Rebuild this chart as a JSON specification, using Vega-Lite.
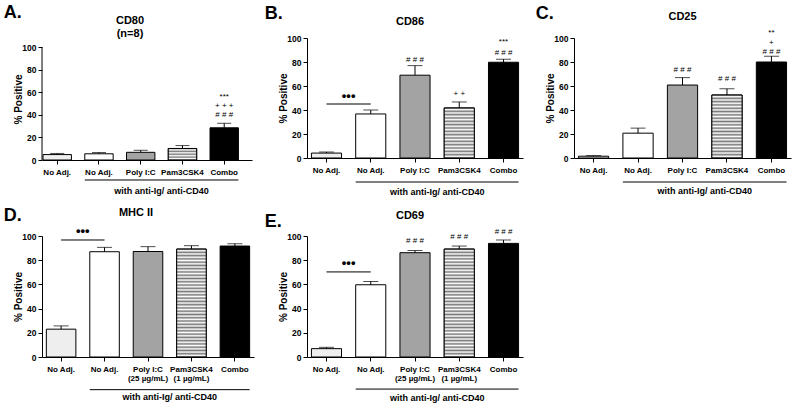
{
"$schema":"https://vega.github.io/schema/vega-lite/v6.json",
"padding":{"left":3,"top":4,"right":5,"bottom":0},
"background":"#ffffff",
"config":{"font":"Liberation Sans","view":{"stroke":null},
"axis":{"labelFont":"Liberation Sans","labelFontWeight":"bold","labelColor":"#000","tickColor":"#000","domainColor":"#000","titleColor":"#000","grid":false,"labelFontSize":8.5,"tickSize":4,"titleFont":"Liberation Sans","titleFontWeight":"bold","labelOverlap":false},
"axisX":{"labelAngle":0,"labelFontSize":8,"labelPadding":4,"labelLineHeight":9.5},
"axisY":{"titleFontSize":10,"titlePadding":-2,"labelPadding":2,"tickCount":6},
"title":{"fontSize":11,"font":"Liberation Sans","fontWeight":"bold","color":"#000"},
"text":{"font":"Liberation Sans","color":"#000"}},
"spacing":10,
"vconcat":[
{"spacing":12,"hconcat":[
{"title":{"text":"A.","anchor":"start","fontSize":18,"dx":-10,"offset":-7},
"vconcat":[{"width":210,"height":122,
"title":{"text":["CD80","(n=8)"],"offset":-1,"frame":"group","lineHeight":13,"dx":-17},
"data":{"values":[{"k":1,"v":4.8,"e":5.8},{"k":2,"v":5.5,"e":6.6},{"k":3,"v":6.8,"e":8.6},{"k":4,"v":10.2,"e":12.8},{"k":5,"v":28.5,"e":32.5}]},
"layer":[
{"mark":{"type":"bar","stroke":"#000","strokeWidth":1},"encoding":{"x":{"field":"k","type":"ordinal","title":null,"scale":{"domain":[1,2,3,4,5],"paddingInner":0.32,"paddingOuter":0.175,"align":0.07},"axis":{"labelExpr":"['No Adj.','No Adj.','Poly I:C','Pam3CSK4','Combo'][datum.value-1]"}},"y":{"field":"v","type":"quantitative","title":"% Positive","scale":{"domain":[0,108],"nice":false},"axis":{"values":[0,20,40,60,80,100],"tickCount":6,"domain":false,"labelOverlap":false}},"fill":{"field":"k","type":"nominal","legend":null,"scale":{"domain":[1,2,3,4,5],"range":["#eeeeee","#ffffff","#a3a3a3","#cfcfcf","#000000"]}}}},
{"transform":[{"filter":"datum.k == 4"}],"mark":{"type":"bar","stroke":"#000","strokeWidth":1,"fill":{"gradient":"linear","x1":0,"y1":0,"x2":0,"y2":1,"stops":[{"offset":0,"color":"#777"},{"offset":0.125,"color":"#fff"},{"offset":0.25,"color":"#777"},{"offset":0.375,"color":"#fff"},{"offset":0.5,"color":"#777"},{"offset":0.625,"color":"#fff"},{"offset":0.75,"color":"#777"},{"offset":0.875,"color":"#fff"},{"offset":1,"color":"#777"}]}},"encoding":{"x":{"field":"k","type":"ordinal","title":null},"y":{"field":"v","type":"quantitative","title":"% Positive"}}},
{"data":{"values":[{}]},"mark":{"type":"rule","color":"#000"},"encoding":{"x":{"datum":1,"type":"ordinal","bandPosition":-0.035,"title":null},"y":{"datum":0,"type":"quantitative","title":"% Positive"},"y2":{"datum":100}}},
{"mark":{"type":"rule","color":"#000"},"encoding":{"x":{"field":"k","type":"ordinal","title":null},"y":{"field":"v","type":"quantitative","title":"% Positive"},"y2":{"field":"e"}}},
{"mark":{"type":"tick","color":"#000","thickness":1,"size":14},"encoding":{"x":{"field":"k","type":"ordinal","title":null},"y":{"field":"e","type":"quantitative","title":"% Positive"}}},
{"data":{"values":[{"k":5,"s":"***","p":55.6},{"k":5,"s":"+ + +","p":47.4},{"k":5,"s":"# # #","p":40}]},"mark":{"type":"text","fontSize":8,"baseline":"middle"},"encoding":{"x":{"field":"k","type":"ordinal","title":null},"y":{"field":"p","type":"quantitative","title":"% Positive"},"text":{"field":"s"}}},
{"data":{"values":[{}]},"mark":{"type":"rule","color":"#000"},"encoding":{"x":{"datum":2,"type":"ordinal","bandPosition":0,"title":null},"x2":{"datum":5,"bandPosition":1},"y":{"datum":-17.7,"type":"quantitative","title":"% Positive"}}},
{"data":{"values":[{}]},"mark":{"type":"text","fontSize":9,"fontWeight":"bold","baseline":"middle"},"encoding":{"x":{"datum":4,"type":"ordinal","bandPosition":-0.235,"title":null},"y":{"datum":-27.4,"type":"quantitative","title":"% Positive"},"text":{"value":"with anti-Ig/ anti-CD40"}}}
]}]},
{"title":{"text":"B.","anchor":"start","fontSize":18,"dx":-14,"offset":-7},
"vconcat":[{"width":216,"height":120,
"title":{"text":"CD86","offset":7,"frame":"group","dx":-5},
"data":{"values":[{"k":1,"v":4.1,"e":5},{"k":2,"v":36.7,"e":40},{"k":3,"v":69,"e":77},{"k":4,"v":41.7,"e":46.7},{"k":5,"v":79.8,"e":82.3}]},
"layer":[
{"mark":{"type":"bar","stroke":"#000","strokeWidth":1},"encoding":{"x":{"field":"k","type":"ordinal","title":null,"scale":{"domain":[1,2,3,4,5],"paddingInner":0.32,"paddingOuter":0.1},"axis":{"labelExpr":"['No Adj.','No Adj.','Poly I:C','Pam3CSK4','Combo'][datum.value-1]"}},"y":{"field":"v","type":"quantitative","title":"% Positive","scale":{"domain":[0,100],"nice":false},"axis":{"values":[0,20,40,60,80,100],"tickCount":6,"labelOverlap":false}},"fill":{"field":"k","type":"nominal","legend":null,"scale":{"domain":[1,2,3,4,5],"range":["#eeeeee","#ffffff","#a3a3a3","#cfcfcf","#000000"]}}}},
{"transform":[{"filter":"datum.k == 4"}],"mark":{"type":"bar","stroke":"#000","strokeWidth":1,"fill":{"gradient":"linear","x1":0,"y1":0,"x2":0,"y2":1,"stops":[{"offset":0,"color":"#777"},{"offset":0.0333,"color":"#fff"},{"offset":0.0667,"color":"#777"},{"offset":0.1,"color":"#fff"},{"offset":0.1333,"color":"#777"},{"offset":0.1667,"color":"#fff"},{"offset":0.2,"color":"#777"},{"offset":0.2333,"color":"#fff"},{"offset":0.2667,"color":"#777"},{"offset":0.3,"color":"#fff"},{"offset":0.3333,"color":"#777"},{"offset":0.3667,"color":"#fff"},{"offset":0.4,"color":"#777"},{"offset":0.4333,"color":"#fff"},{"offset":0.4667,"color":"#777"},{"offset":0.5,"color":"#fff"},{"offset":0.5333,"color":"#777"},{"offset":0.5667,"color":"#fff"},{"offset":0.6,"color":"#777"},{"offset":0.6333,"color":"#fff"},{"offset":0.6667,"color":"#777"},{"offset":0.7,"color":"#fff"},{"offset":0.7333,"color":"#777"},{"offset":0.7667,"color":"#fff"},{"offset":0.8,"color":"#777"},{"offset":0.8333,"color":"#fff"},{"offset":0.8667,"color":"#777"},{"offset":0.9,"color":"#fff"},{"offset":0.9333,"color":"#777"},{"offset":0.9667,"color":"#fff"},{"offset":1,"color":"#777"}]}},"encoding":{"x":{"field":"k","type":"ordinal","title":null},"y":{"field":"v","type":"quantitative","title":"% Positive"}}},
{"mark":{"type":"rule","color":"#000"},"encoding":{"x":{"field":"k","type":"ordinal","title":null},"y":{"field":"v","type":"quantitative","title":"% Positive"},"y2":{"field":"e"}}},
{"mark":{"type":"tick","color":"#000","thickness":1,"size":15},"encoding":{"x":{"field":"k","type":"ordinal","title":null},"y":{"field":"e","type":"quantitative","title":"% Positive"}}},
{"data":{"values":[{"k":3,"s":"# # #","p":81.5},{"k":4,"s":"+ +","p":53},{"k":5,"s":"***","p":96.5},{"k":5,"s":"# # #","p":87.8}]},"mark":{"type":"text","fontSize":8,"baseline":"middle"},"encoding":{"x":{"field":"k","type":"ordinal","title":null},"y":{"field":"p","type":"quantitative","title":"% Positive"},"text":{"field":"s"}}},
{"data":{"values":[{}]},"mark":{"type":"rule","color":"#000"},"encoding":{"x":{"datum":1,"type":"ordinal","bandPosition":0.5,"title":null},"x2":{"datum":2,"bandPosition":0.5},"y":{"datum":45,"type":"quantitative","title":"% Positive"}}},
{"data":{"values":[{}]},"mark":{"type":"text","fontSize":13,"fontWeight":"bold","baseline":"middle"},"encoding":{"x":{"datum":2,"type":"ordinal","bandPosition":-0.235,"title":null},"y":{"datum":52,"type":"quantitative","title":"% Positive"},"text":{"value":"•••"}}},
{"data":{"values":[{}]},"mark":{"type":"rule","color":"#000"},"encoding":{"x":{"datum":2,"type":"ordinal","bandPosition":0,"title":null},"x2":{"datum":5,"bandPosition":1},"y":{"datum":-20,"type":"quantitative","title":"% Positive"}}},
{"data":{"values":[{}]},"mark":{"type":"text","fontSize":9,"fontWeight":"bold","baseline":"middle"},"encoding":{"x":{"datum":4,"type":"ordinal","bandPosition":-0.235,"title":null},"y":{"datum":-28,"type":"quantitative","title":"% Positive"},"text":{"value":"with anti-Ig/ anti-CD40"}}}
]}]},
{"title":{"text":"C.","anchor":"start","fontSize":18,"dx":-10,"offset":-12},
"vconcat":[{"width":217,"height":120,
"title":{"text":"CD25","offset":7,"frame":"group"},
"data":{"values":[{"k":1,"v":1.5,"e":2},{"k":2,"v":20.7,"e":24.9},{"k":3,"v":60.8,"e":67},{"k":4,"v":52.5,"e":57.7},{"k":5,"v":80,"e":84.8}]},
"layer":[
{"mark":{"type":"bar","stroke":"#000","strokeWidth":1},"encoding":{"x":{"field":"k","type":"ordinal","title":null,"scale":{"domain":[1,2,3,4,5],"paddingInner":0.32,"paddingOuter":0.1},"axis":{"labelExpr":"['No Adj.','No Adj.','Poly I:C','Pam3CSK4','Combo'][datum.value-1]"}},"y":{"field":"v","type":"quantitative","title":"% Positive","scale":{"domain":[0,100],"nice":false},"axis":{"values":[0,20,40,60,80,100],"tickCount":6,"labelOverlap":false}},"fill":{"field":"k","type":"nominal","legend":null,"scale":{"domain":[1,2,3,4,5],"range":["#eeeeee","#ffffff","#a3a3a3","#cfcfcf","#000000"]}}}},
{"transform":[{"filter":"datum.k == 4"}],"mark":{"type":"bar","stroke":"#000","strokeWidth":1,"fill":{"gradient":"linear","x1":0,"y1":0,"x2":0,"y2":1,"stops":[{"offset":0,"color":"#777"},{"offset":0.0263,"color":"#fff"},{"offset":0.0526,"color":"#777"},{"offset":0.0789,"color":"#fff"},{"offset":0.1053,"color":"#777"},{"offset":0.1316,"color":"#fff"},{"offset":0.1579,"color":"#777"},{"offset":0.1842,"color":"#fff"},{"offset":0.2105,"color":"#777"},{"offset":0.2368,"color":"#fff"},{"offset":0.2632,"color":"#777"},{"offset":0.2895,"color":"#fff"},{"offset":0.3158,"color":"#777"},{"offset":0.3421,"color":"#fff"},{"offset":0.3684,"color":"#777"},{"offset":0.3947,"color":"#fff"},{"offset":0.4211,"color":"#777"},{"offset":0.4474,"color":"#fff"},{"offset":0.4737,"color":"#777"},{"offset":0.5,"color":"#fff"},{"offset":0.5263,"color":"#777"},{"offset":0.5526,"color":"#fff"},{"offset":0.5789,"color":"#777"},{"offset":0.6053,"color":"#fff"},{"offset":0.6316,"color":"#777"},{"offset":0.6579,"color":"#fff"},{"offset":0.6842,"color":"#777"},{"offset":0.7105,"color":"#fff"},{"offset":0.7368,"color":"#777"},{"offset":0.7632,"color":"#fff"},{"offset":0.7895,"color":"#777"},{"offset":0.8158,"color":"#fff"},{"offset":0.8421,"color":"#777"},{"offset":0.8684,"color":"#fff"},{"offset":0.8947,"color":"#777"},{"offset":0.9211,"color":"#fff"},{"offset":0.9474,"color":"#777"},{"offset":0.9737,"color":"#fff"},{"offset":1,"color":"#777"}]}},"encoding":{"x":{"field":"k","type":"ordinal","title":null},"y":{"field":"v","type":"quantitative","title":"% Positive"}}},
{"mark":{"type":"rule","color":"#000"},"encoding":{"x":{"field":"k","type":"ordinal","title":null},"y":{"field":"v","type":"quantitative","title":"% Positive"},"y2":{"field":"e"}}},
{"mark":{"type":"tick","color":"#000","thickness":1,"size":15},"encoding":{"x":{"field":"k","type":"ordinal","title":null},"y":{"field":"e","type":"quantitative","title":"% Positive"}}},
{"data":{"values":[{"k":3,"s":"# # #","p":73},{"k":4,"s":"# # #","p":66},{"k":5,"s":"**","p":104},{"k":5,"s":"+","p":96},{"k":5,"s":"# # #","p":88}]},"mark":{"type":"text","fontSize":8,"baseline":"middle"},"encoding":{"x":{"field":"k","type":"ordinal","title":null},"y":{"field":"p","type":"quantitative","title":"% Positive"},"text":{"field":"s"}}},
{"data":{"values":[{}]},"mark":{"type":"rule","color":"#000"},"encoding":{"x":{"datum":2,"type":"ordinal","bandPosition":0,"title":null},"x2":{"datum":5,"bandPosition":1},"y":{"datum":-20,"type":"quantitative","title":"% Positive"}}},
{"data":{"values":[{}]},"mark":{"type":"text","fontSize":9,"fontWeight":"bold","baseline":"middle"},"encoding":{"x":{"datum":4,"type":"ordinal","bandPosition":-0.235,"title":null},"y":{"datum":-27.5,"type":"quantitative","title":"% Positive"},"text":{"value":"with anti-Ig/ anti-CD40"}}}
]}]}
]},
{"spacing":10,"hconcat":[
{"title":{"text":"D.","anchor":"start","fontSize":18,"dx":-10,"offset":-18},
"vconcat":[{"width":212,"height":121,
"title":{"text":"MHC II","offset":7,"frame":"group","dx":-12},
"data":{"values":[{"k":1,"v":23,"e":25.7},{"k":2,"v":87,"e":90.6},{"k":3,"v":87.2,"e":91.2},{"k":4,"v":89.2,"e":92},{"k":5,"v":91.7,"e":93.6}]},
"layer":[
{"mark":{"type":"bar","stroke":"#000","strokeWidth":1},"encoding":{"x":{"field":"k","type":"ordinal","title":null,"scale":{"domain":[1,2,3,4,5],"paddingInner":0.32,"paddingOuter":0.1},"axis":{"labelExpr":"['No Adj.','No Adj.',['Poly I:C','(25 µg/mL)'],['Pam3CSK4','(1 µg/mL)'],'Combo'][datum.value-1]"}},"y":{"field":"v","type":"quantitative","title":"% Positive","scale":{"domain":[0,100],"nice":false},"axis":{"values":[0,20,40,60,80,100],"tickCount":6,"labelOverlap":false}},"fill":{"field":"k","type":"nominal","legend":null,"scale":{"domain":[1,2,3,4,5],"range":["#eeeeee","#ffffff","#a3a3a3","#cfcfcf","#000000"]}}}},
{"transform":[{"filter":"datum.k == 4"}],"mark":{"type":"bar","stroke":"#000","strokeWidth":1,"fill":{"gradient":"linear","x1":0,"y1":0,"x2":0,"y2":1,"stops":[{"offset":0,"color":"#777"},{"offset":0.0152,"color":"#fff"},{"offset":0.0303,"color":"#777"},{"offset":0.0455,"color":"#fff"},{"offset":0.0606,"color":"#777"},{"offset":0.0758,"color":"#fff"},{"offset":0.0909,"color":"#777"},{"offset":0.1061,"color":"#fff"},{"offset":0.1212,"color":"#777"},{"offset":0.1364,"color":"#fff"},{"offset":0.1515,"color":"#777"},{"offset":0.1667,"color":"#fff"},{"offset":0.1818,"color":"#777"},{"offset":0.197,"color":"#fff"},{"offset":0.2121,"color":"#777"},{"offset":0.2273,"color":"#fff"},{"offset":0.2424,"color":"#777"},{"offset":0.2576,"color":"#fff"},{"offset":0.2727,"color":"#777"},{"offset":0.2879,"color":"#fff"},{"offset":0.303,"color":"#777"},{"offset":0.3182,"color":"#fff"},{"offset":0.3333,"color":"#777"},{"offset":0.3485,"color":"#fff"},{"offset":0.3636,"color":"#777"},{"offset":0.3788,"color":"#fff"},{"offset":0.3939,"color":"#777"},{"offset":0.4091,"color":"#fff"},{"offset":0.4242,"color":"#777"},{"offset":0.4394,"color":"#fff"},{"offset":0.4545,"color":"#777"},{"offset":0.4697,"color":"#fff"},{"offset":0.4848,"color":"#777"},{"offset":0.5,"color":"#fff"},{"offset":0.5152,"color":"#777"},{"offset":0.5303,"color":"#fff"},{"offset":0.5455,"color":"#777"},{"offset":0.5606,"color":"#fff"},{"offset":0.5758,"color":"#777"},{"offset":0.5909,"color":"#fff"},{"offset":0.6061,"color":"#777"},{"offset":0.6212,"color":"#fff"},{"offset":0.6364,"color":"#777"},{"offset":0.6515,"color":"#fff"},{"offset":0.6667,"color":"#777"},{"offset":0.6818,"color":"#fff"},{"offset":0.697,"color":"#777"},{"offset":0.7121,"color":"#fff"},{"offset":0.7273,"color":"#777"},{"offset":0.7424,"color":"#fff"},{"offset":0.7576,"color":"#777"},{"offset":0.7727,"color":"#fff"},{"offset":0.7879,"color":"#777"},{"offset":0.803,"color":"#fff"},{"offset":0.8182,"color":"#777"},{"offset":0.8333,"color":"#fff"},{"offset":0.8485,"color":"#777"},{"offset":0.8636,"color":"#fff"},{"offset":0.8788,"color":"#777"},{"offset":0.8939,"color":"#fff"},{"offset":0.9091,"color":"#777"},{"offset":0.9242,"color":"#fff"},{"offset":0.9394,"color":"#777"},{"offset":0.9545,"color":"#fff"},{"offset":0.9697,"color":"#777"},{"offset":0.9848,"color":"#fff"},{"offset":1,"color":"#777"}]}},"encoding":{"x":{"field":"k","type":"ordinal","title":null},"y":{"field":"v","type":"quantitative","title":"% Positive"}}},
{"mark":{"type":"rule","color":"#000"},"encoding":{"x":{"field":"k","type":"ordinal","title":null},"y":{"field":"v","type":"quantitative","title":"% Positive"},"y2":{"field":"e"}}},
{"mark":{"type":"tick","color":"#000","thickness":1,"size":15},"encoding":{"x":{"field":"k","type":"ordinal","title":null},"y":{"field":"e","type":"quantitative","title":"% Positive"}}},
{"data":{"values":[{}]},"mark":{"type":"rule","color":"#000"},"encoding":{"x":{"datum":1,"type":"ordinal","bandPosition":0.5,"title":null},"x2":{"datum":2,"bandPosition":0.5},"y":{"datum":96.7,"type":"quantitative","title":"% Positive"}}},
{"data":{"values":[{}]},"mark":{"type":"text","fontSize":13,"fontWeight":"bold","baseline":"middle"},"encoding":{"x":{"datum":2,"type":"ordinal","bandPosition":-0.235,"title":null},"y":{"datum":104,"type":"quantitative","title":"% Positive"},"text":{"value":"•••"}}},
{"data":{"values":[{}]},"mark":{"type":"rule","color":"#000"},"encoding":{"x":{"datum":2,"type":"ordinal","bandPosition":0,"title":null},"x2":{"datum":5,"bandPosition":1},"y":{"datum":-27,"type":"quantitative","title":"% Positive"}}},
{"data":{"values":[{}]},"mark":{"type":"text","fontSize":9,"fontWeight":"bold","baseline":"middle"},"encoding":{"x":{"datum":4,"type":"ordinal","bandPosition":-0.235,"title":null},"y":{"datum":-33,"type":"quantitative","title":"% Positive"},"text":{"value":"with anti-Ig/ anti-CD40"}}}
]}]},
{"title":{"text":"E.","anchor":"start","fontSize":18,"dx":-14,"offset":-21},
"vconcat":[{"width":216,"height":121,
"title":{"text":"CD69","offset":7,"frame":"group","dx":-5},
"data":{"values":[{"k":1,"v":6.9,"e":8},{"k":2,"v":59.7,"e":62.4},{"k":3,"v":86.2,"e":88},{"k":4,"v":89.2,"e":91.7},{"k":5,"v":93.9,"e":96.7}]},
"layer":[
{"mark":{"type":"bar","stroke":"#000","strokeWidth":1},"encoding":{"x":{"field":"k","type":"ordinal","title":null,"scale":{"domain":[1,2,3,4,5],"paddingInner":0.32,"paddingOuter":0.1},"axis":{"labelExpr":"['No Adj.','No Adj.',['Poly I:C','(25 µg/mL)'],['Pam3CSK4','(1 µg/mL)'],'Combo'][datum.value-1]"}},"y":{"field":"v","type":"quantitative","title":"% Positive","scale":{"domain":[0,100],"nice":false},"axis":{"values":[0,20,40,60,80,100],"tickCount":6,"labelOverlap":false}},"fill":{"field":"k","type":"nominal","legend":null,"scale":{"domain":[1,2,3,4,5],"range":["#eeeeee","#ffffff","#a3a3a3","#cfcfcf","#000000"]}}}},
{"transform":[{"filter":"datum.k == 4"}],"mark":{"type":"bar","stroke":"#000","strokeWidth":1,"fill":{"gradient":"linear","x1":0,"y1":0,"x2":0,"y2":1,"stops":[{"offset":0,"color":"#777"},{"offset":0.0152,"color":"#fff"},{"offset":0.0303,"color":"#777"},{"offset":0.0455,"color":"#fff"},{"offset":0.0606,"color":"#777"},{"offset":0.0758,"color":"#fff"},{"offset":0.0909,"color":"#777"},{"offset":0.1061,"color":"#fff"},{"offset":0.1212,"color":"#777"},{"offset":0.1364,"color":"#fff"},{"offset":0.1515,"color":"#777"},{"offset":0.1667,"color":"#fff"},{"offset":0.1818,"color":"#777"},{"offset":0.197,"color":"#fff"},{"offset":0.2121,"color":"#777"},{"offset":0.2273,"color":"#fff"},{"offset":0.2424,"color":"#777"},{"offset":0.2576,"color":"#fff"},{"offset":0.2727,"color":"#777"},{"offset":0.2879,"color":"#fff"},{"offset":0.303,"color":"#777"},{"offset":0.3182,"color":"#fff"},{"offset":0.3333,"color":"#777"},{"offset":0.3485,"color":"#fff"},{"offset":0.3636,"color":"#777"},{"offset":0.3788,"color":"#fff"},{"offset":0.3939,"color":"#777"},{"offset":0.4091,"color":"#fff"},{"offset":0.4242,"color":"#777"},{"offset":0.4394,"color":"#fff"},{"offset":0.4545,"color":"#777"},{"offset":0.4697,"color":"#fff"},{"offset":0.4848,"color":"#777"},{"offset":0.5,"color":"#fff"},{"offset":0.5152,"color":"#777"},{"offset":0.5303,"color":"#fff"},{"offset":0.5455,"color":"#777"},{"offset":0.5606,"color":"#fff"},{"offset":0.5758,"color":"#777"},{"offset":0.5909,"color":"#fff"},{"offset":0.6061,"color":"#777"},{"offset":0.6212,"color":"#fff"},{"offset":0.6364,"color":"#777"},{"offset":0.6515,"color":"#fff"},{"offset":0.6667,"color":"#777"},{"offset":0.6818,"color":"#fff"},{"offset":0.697,"color":"#777"},{"offset":0.7121,"color":"#fff"},{"offset":0.7273,"color":"#777"},{"offset":0.7424,"color":"#fff"},{"offset":0.7576,"color":"#777"},{"offset":0.7727,"color":"#fff"},{"offset":0.7879,"color":"#777"},{"offset":0.803,"color":"#fff"},{"offset":0.8182,"color":"#777"},{"offset":0.8333,"color":"#fff"},{"offset":0.8485,"color":"#777"},{"offset":0.8636,"color":"#fff"},{"offset":0.8788,"color":"#777"},{"offset":0.8939,"color":"#fff"},{"offset":0.9091,"color":"#777"},{"offset":0.9242,"color":"#fff"},{"offset":0.9394,"color":"#777"},{"offset":0.9545,"color":"#fff"},{"offset":0.9697,"color":"#777"},{"offset":0.9848,"color":"#fff"},{"offset":1,"color":"#777"}]}},"encoding":{"x":{"field":"k","type":"ordinal","title":null},"y":{"field":"v","type":"quantitative","title":"% Positive"}}},
{"mark":{"type":"rule","color":"#000"},"encoding":{"x":{"field":"k","type":"ordinal","title":null},"y":{"field":"v","type":"quantitative","title":"% Positive"},"y2":{"field":"e"}}},
{"mark":{"type":"tick","color":"#000","thickness":1,"size":15},"encoding":{"x":{"field":"k","type":"ordinal","title":null},"y":{"field":"e","type":"quantitative","title":"% Positive"}}},
{"data":{"values":[{"k":3,"s":"# # #","p":95.6},{"k":4,"s":"# # #","p":99},{"k":5,"s":"# # #","p":103}]},"mark":{"type":"text","fontSize":8,"baseline":"middle"},"encoding":{"x":{"field":"k","type":"ordinal","title":null},"y":{"field":"p","type":"quantitative","title":"% Positive"},"text":{"field":"s"}}},
{"data":{"values":[{}]},"mark":{"type":"rule","color":"#000"},"encoding":{"x":{"datum":1,"type":"ordinal","bandPosition":0.5,"title":null},"x2":{"datum":2,"bandPosition":0.5},"y":{"datum":70.3,"type":"quantitative","title":"% Positive"}}},
{"data":{"values":[{}]},"mark":{"type":"text","fontSize":13,"fontWeight":"bold","baseline":"middle"},"encoding":{"x":{"datum":2,"type":"ordinal","bandPosition":-0.235,"title":null},"y":{"datum":78,"type":"quantitative","title":"% Positive"},"text":{"value":"•••"}}},
{"data":{"values":[{}]},"mark":{"type":"rule","color":"#000"},"encoding":{"x":{"datum":2,"type":"ordinal","bandPosition":0,"title":null},"x2":{"datum":5,"bandPosition":1},"y":{"datum":-26.5,"type":"quantitative","title":"% Positive"}}},
{"data":{"values":[{}]},"mark":{"type":"text","fontSize":9,"fontWeight":"bold","baseline":"middle"},"encoding":{"x":{"datum":4,"type":"ordinal","bandPosition":-0.235,"title":null},"y":{"datum":-34,"type":"quantitative","title":"% Positive"},"text":{"value":"with anti-Ig/ anti-CD40"}}}
]}]}
]}
]}
